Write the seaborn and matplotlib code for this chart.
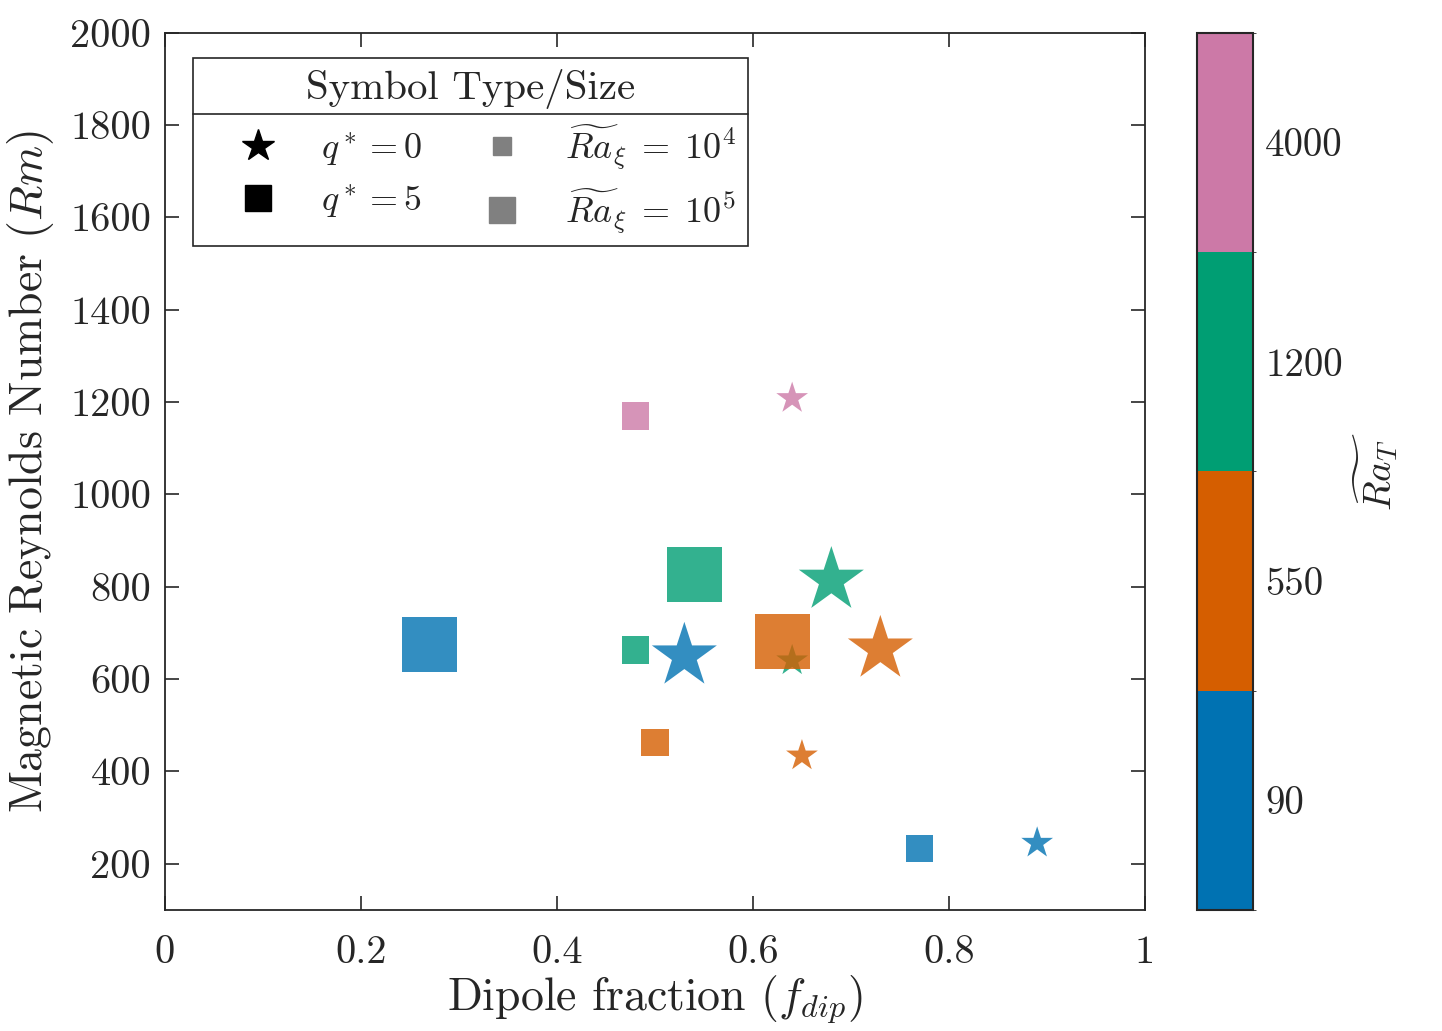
import numpy as np
import pandas as pd
import matplotlib
matplotlib.use("Agg")
import matplotlib.pyplot as plt
import seaborn as sns
from matplotlib.colors import ListedColormap, BoundaryNorm
from matplotlib.cm import ScalarMappable
from matplotlib.lines import Line2D

# ---------------- data ----------------
# q* = 0 (stars) first, then q* = 5 (squares)
q_star = [0, 0, 0, 0, 0, 0, 0,
          5, 5, 5, 5, 5, 5, 5]
ra_xi = [1e4, 1e4, 1e4, 1e4, 1e5, 1e5, 1e5,
         1e4, 1e4, 1e4, 1e4, 1e5, 1e5, 1e5]
ra_T = [4000, 1200, 550, 90, 90, 1200, 550,
        4000, 1200, 550, 90, 90, 1200, 550]
f_dip = [0.64, 0.64, 0.65, 0.89, 0.53, 0.68, 0.73,
         0.48, 0.48, 0.50, 0.77, 0.27, 0.54, 0.63]
Rm = [1208, 640, 434, 245, 650, 814, 665,
      1170, 663, 463, 233, 674, 826, 681]

ra_T_levels = [90, 550, 1200, 4000]
ra_T_labels = ["90", "550", "1200", "4000"]
ra_T_colors = ["#0072B2", "#D55E00", "#009E73", "#CC79A7"]

x_ticks = [0, 0.2, 0.4, 0.6, 0.8, 1.0]
x_ticklabels = ["0", "0.2", "0.4", "0.6", "0.8", "1"]
y_ticks = [200, 400, 600, 800, 1000, 1200, 1400, 1600, 1800, 2000]

df = pd.DataFrame({"q": q_star, "ra_xi": ra_xi, "ra_T": ra_T,
                   "f_dip": f_dip, "Rm": Rm})

# ---------------- style ----------------
sns.set_style("ticks")
plt.rcParams["font.family"] = "serif"
plt.rcParams["font.serif"] = ["cmr10", "DejaVu Serif"]
plt.rcParams["mathtext.fontset"] = "cm"
plt.rcParams["axes.formatter.use_mathtext"] = True
plt.rcParams["axes.unicode_minus"] = False

dark = "#262626"
TICK_FS = 29

fig = plt.figure(figsize=(14.42, 10.31), dpi=100)
ax = fig.add_axes([0.1144, 0.1174, 0.6796, 0.8510])

palette = dict(zip(ra_T_levels, ra_T_colors))
st = df[df["q"] == 0]
sq = df[df["q"] == 5]
sns.scatterplot(data=st, x="f_dip", y="Rm", hue="ra_T", palette=palette,
                size="ra_xi", sizes={1e4: 578, 1e5: 2424}, marker="*",
                alpha=0.8, linewidth=0, legend=False, ax=ax, zorder=3)
sns.scatterplot(data=sq, x="f_dip", y="Rm", hue="ra_T", palette=palette,
                size="ra_xi", sizes={1e4: 386, 1e5: 1568}, marker="s",
                alpha=0.8, linewidth=0, legend=False, ax=ax, zorder=4)

ax.set_xlim(0, 1)
ax.set_ylim(100, 2000)
ax.set_xticks(x_ticks)
ax.set_xticklabels(x_ticklabels)
ax.set_yticks(y_ticks)
ax.set_yticklabels([str(v) for v in y_ticks])
ax.tick_params(direction="in", length=10, width=1.2, colors=dark,
               labelsize=TICK_FS, top=True, right=True, pad=10)
ax.tick_params(axis="x", pad=18)
for s in ax.spines.values():
    s.set_visible(True)
    s.set_color(dark)
    s.set_linewidth(1.3)
ax.set_xlabel(r"Dipole fraction ($f_{dip}$)", fontsize=33, color=dark, labelpad=2)
ax.set_ylabel(r"Magnetic Reynolds Number ($Rm$)", fontsize=33, color=dark, labelpad=10)

# ---------------- legend ----------------
gray = "#808080"
handles = [
    Line2D([], [], marker="*", color="k", linestyle="none", markersize=24),
    Line2D([], [], marker="s", color="k", linestyle="none", markersize=19),
    Line2D([], [], marker="s", color=gray, linestyle="none", markersize=12.7),
    Line2D([], [], marker="s", color=gray, linestyle="none", markersize=19.4),
]
labels = [r"$q^* = 0$", r"$q^* = 5$",
          r"$\widetilde{Ra}_\xi\;=\;10^4$", r"$\widetilde{Ra}_\xi\;=\;10^5$"]
leg = ax.legend(handles, labels, ncol=2, loc="upper left",
                bbox_to_anchor=(0.0286, 0.971), borderaxespad=0,
                title="Symbol Type/Size", title_fontsize=29.5, fontsize=26,
                fancybox=False, framealpha=1, edgecolor=dark,
                borderpad=0.3, handlelength=3.0, handletextpad=0.25,
                columnspacing=0.7, labelspacing=0.4)
leg.get_frame().set_linewidth(1.2)
leg.set_zorder(10)

# ---------------- colorbar ----------------
cax = fig.add_axes([0.830, 0.1174, 0.0388, 0.8510])
cmap = ListedColormap(ra_T_colors)
norm = BoundaryNorm(np.arange(len(ra_T_levels) + 1), cmap.N)
sm = ScalarMappable(norm=norm, cmap=cmap)
cbar = fig.colorbar(sm, cax=cax, ticks=np.arange(len(ra_T_levels)) + 0.5)
cbar.set_ticklabels(ra_T_labels)
cbar.ax.tick_params(direction="in", length=10, width=1.2, colors=dark,
                    labelsize=28, pad=9)
cbar.outline.set_edgecolor(dark)
cbar.outline.set_linewidth(1.5)
cbar.ax.set_ylabel(r"$\widetilde{Ra_T}$", fontsize=28, rotation=90,
                   labelpad=6, color=dark)

# separator line under legend title
fig.canvas.draw()
fb = leg.get_frame().get_window_extent()
tb = leg.get_title().get_window_extent()
ysep = tb.y0 - 5
inv = fig.transFigure.inverted()
(x0, y0), (x1, _) = inv.transform([(fb.x0, ysep), (fb.x1, ysep)])
fig.add_artist(Line2D([x0, x1], [y0, y0], color=dark, linewidth=1.2, zorder=11))

fig.savefig("out.png", dpi=100)
